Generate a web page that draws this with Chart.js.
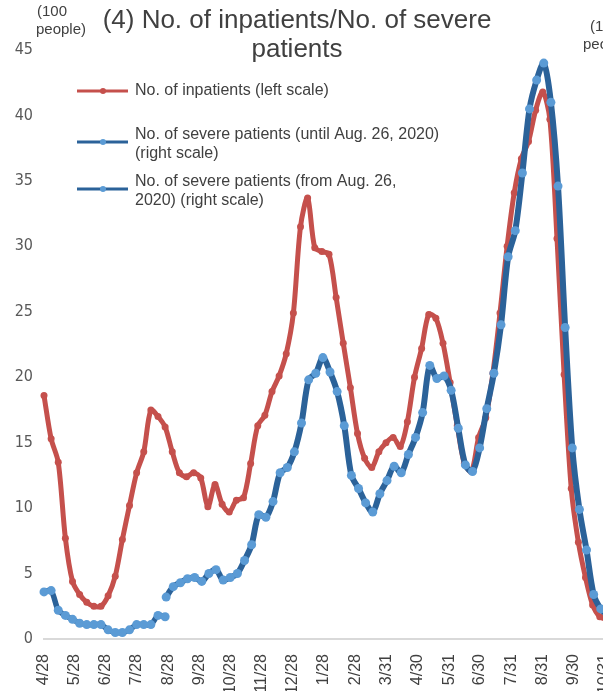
<!DOCTYPE html>
<html>
<head>
<meta charset="utf-8">
<script src="https://cdn.jsdelivr.net/npm/chart.js@4.4.0/dist/chart.umd.min.js"></script>
<style>
  html, body { margin: 0; padding: 0; background: #fff; overflow: hidden; }
  #wrap { width: 603px; height: 691px; overflow: hidden; position: relative; }
  #chart { position: absolute; left: 0; top: 0; }
</style>
</head>
<body>
<div id="wrap"><canvas id="chart" width="680" height="720"></canvas></div>
<script>
// weekly series, first sample on 2020-04-28 (left scale, 100 people)
const startDate = '2020-04-28';
const inpatients = [
  18.6, 15.3, 13.5, 7.7, 4.4, 3.4, 2.8, 2.5, 2.5, 3.3,
  4.8, 7.6, 10.2, 12.7, 14.3, 17.5, 17.0, 16.2, 14.3, 12.7,
  12.4, 12.7, 12.3, 10.1, 11.8, 10.3, 9.7, 10.6, 10.8, 13.4,
  16.3, 17.1, 18.9, 20.1, 21.8, 24.9, 31.5, 33.7, 29.9, 29.6,
  29.4, 26.1, 22.6, 19.2, 15.7, 13.8, 13.1, 14.3, 15.0, 15.4,
  14.7, 16.6, 20.0, 22.2, 24.8, 24.5, 22.6, 19.6, 16.3, 13.4,
  12.8, 15.4, 16.9, 20.3, 24.9, 30.0, 34.1, 36.7, 38.0, 40.4,
  41.8, 39.7, 30.6, 20.2, 11.5, 7.4, 4.7, 2.6, 1.7, 1.5
];

// severe patients (right scale, 100 people)
const severeUntil = [
  1.80, 1.85, 1.10, 0.90, 0.75, 0.60, 0.55, 0.55, 0.55, 0.35,
  0.25, 0.25, 0.35, 0.55, 0.55, 0.55, 0.90, 0.85
];
const severeFromStart = '2020-08-26';
const severeFrom = [
  1.6, 2.0, 2.15, 2.3, 2.35, 2.2, 2.5, 2.65, 2.25, 2.35,
  2.5, 3.0, 3.6, 4.75, 4.65, 5.25, 6.35, 6.55, 7.15, 8.25,
  9.9, 10.15, 10.75, 10.2, 9.45, 8.15, 6.25, 5.75, 5.2, 4.85,
  5.55, 6.05, 6.6, 6.35, 7.05, 7.7, 8.65, 10.45, 9.95, 10.05,
  9.5, 8.05, 6.65, 6.4, 7.3, 8.8, 10.15, 12.0, 14.6, 15.6,
  17.8, 20.25, 21.35, 22.0, 20.5, 17.3, 11.9, 7.3, 4.95, 3.4,
  1.7, 1.15, 0.9
];

// month ticks on the date axis
const tickDates = [
  '2020-04-28', '2020-05-28', '2020-06-28', '2020-07-28', '2020-08-28',
  '2020-09-28', '2020-10-28', '2020-11-28', '2020-12-28', '2021-01-28',
  '2021-02-28', '2021-03-31', '2021-04-30', '2021-05-31', '2021-06-30',
  '2021-07-31', '2021-08-31', '2021-09-30', '2021-10-31'
];
const tickLabels = [
  '4/28', '5/28', '6/28', '7/28', '8/28', '9/28', '10/28', '11/28', '12/28',
  '1/28', '2/28', '3/31', '4/30', '5/31', '6/30', '7/31', '8/31', '9/30', '10/31'
];

const titleLines = ['(4) No. of inpatients/No. of severe', 'patients'];
const legendItems = [
  { text: ['No. of inpatients (left scale)'], line: '#c5504c', dot: '#c5504c' },
  { text: ['No. of severe patients (until Aug. 26, 2020)', '(right scale)'], line: '#2b6299', dot: '#5b9bd5' },
  { text: ['No. of severe patients (from Aug. 26,', '2020) (right scale)'], line: '#2b6299', dot: '#5b9bd5' }
];

function dayOf(s) {
  return (Date.parse(s) - Date.parse(startDate)) / 86400000;
}

const tickDays = tickDates.map(dayOf);
const fromDay = dayOf(severeFromStart);

// title, unit labels and legend drawn on the canvas
const textPlugin = {
  id: 'texts',
  afterDraw(chart) {
    const ctx = chart.ctx;
    ctx.save();
    ctx.fillStyle = '#404040';
    ctx.textBaseline = 'middle';
    ctx.textAlign = 'center';
    ctx.font = '26px "Liberation Sans", Arial, sans-serif';
    titleLines.forEach((t, i) => ctx.fillText(t, 297, 21 + i * 29));

    ctx.textAlign = 'left';
    ctx.font = '15px "Liberation Sans", Arial, sans-serif';
    ctx.fillText('(100', 37, 12);
    ctx.fillText('people)', 36, 30);
    ctx.fillText('(100', 590, 27);
    ctx.fillText('people)', 583, 45);

    // legend
    const rows = [91, 142, 189];
    ctx.font = '16px "Liberation Sans", Arial, sans-serif';
    legendItems.forEach((item, i) => {
      const y = rows[i];
      ctx.strokeStyle = item.line;
      ctx.lineWidth = 3;
      ctx.beginPath();
      ctx.moveTo(77, y);
      ctx.lineTo(128, y);
      ctx.stroke();
      ctx.fillStyle = item.dot;
      ctx.beginPath();
      ctx.arc(103, y, 3, 0, Math.PI * 2);
      ctx.fill();
      ctx.fillStyle = '#404040';
      if (item.text.length === 1) {
        ctx.fillText(item.text[0], 135, y);
      } else {
        ctx.fillText(item.text[0], 135, y - 7);
        ctx.fillText(item.text[1], 135, y + 12);
      }
    });
    ctx.restore();
  }
};

new Chart(document.getElementById('chart'), {
  type: 'line',
  data: {
    datasets: [
      {
        label: 'No. of inpatients (left scale)',
        data: inpatients.map((v, i) => ({ x: i * 7, y: v })),
        yAxisID: 'y',
        borderColor: '#c5504c',
        backgroundColor: '#c5504c',
        borderWidth: 5,
        pointRadius: 3.5,
        pointBorderWidth: 0,
        tension: 0.3,
        clip: false,
        order: 3
      },
      {
        label: 'No. of severe patients (until Aug. 26, 2020) (right scale)',
        data: severeUntil.map((v, i) => ({ x: i * 7, y: v })),
        yAxisID: 'y2',
        borderColor: '#2b6299',
        backgroundColor: '#5b9bd5',
        borderWidth: 5.5,
        pointRadius: 4.5,
        pointBorderWidth: 0,
        tension: 0.3,
        clip: false,
        order: 2
      },
      {
        label: 'No. of severe patients (from Aug. 26, 2020) (right scale)',
        data: severeFrom.map((v, i) => ({ x: fromDay + i * 7, y: v })),
        yAxisID: 'y2',
        borderColor: '#2b6299',
        backgroundColor: '#5b9bd5',
        borderWidth: 6,
        pointRadius: 4.5,
        pointBorderWidth: 0,
        tension: 0.3,
        clip: false,
        order: 1
      }
    ]
  },
  options: {
    responsive: false,
    animation: false,
    devicePixelRatio: 1,
    layout: { padding: { top: 50, left: 0, right: 0, bottom: 0 } },
    plugins: {
      legend: { display: false },
      tooltip: { enabled: false }
    },
    scales: {
      x: {
        type: 'linear',
        min: 0,
        max: 560,
        grid: { display: false, drawTicks: false },
        border: { display: true, color: '#d9d9d9', width: 2 },
        afterBuildTicks(scale) {
          scale.ticks = tickDays.map(v => ({ value: v }));
        },
        afterFit(scale) { scale.height = 81; },
        ticks: {
          autoSkip: false,
          minRotation: 90,
          maxRotation: 90,
          padding: 15,
          color: '#404040',
          font: { family: '"Liberation Sans", Arial, sans-serif', size: 16 },
          callback: (v) => tickLabels[tickDays.indexOf(v)]
        }
      },
      y: {
        position: 'left',
        min: 0,
        max: 45,
        grid: { display: false, drawTicks: false },
        border: { display: false },
        afterFit(scale) { scale.width = 44; },
        ticks: {
          stepSize: 5,
          padding: 11,
          color: '#595959',
          font: { family: '"Liberation Sans Narrow", "DejaVu Sans Condensed", sans-serif', size: 16 }
        }
      },
      y2: {
        position: 'right',
        min: 0,
        max: 22.5,
        grid: { display: false, drawTicks: false },
        border: { display: false },
        afterFit(scale) { scale.width = 66; },
        ticks: {
          stepSize: 2.5,
          padding: 8,
          color: '#595959',
          font: { family: '"Liberation Sans Narrow", "DejaVu Sans Condensed", sans-serif', size: 16 }
        }
      }
    }
  },
  plugins: [textPlugin]
});
</script>
</body>
</html>
